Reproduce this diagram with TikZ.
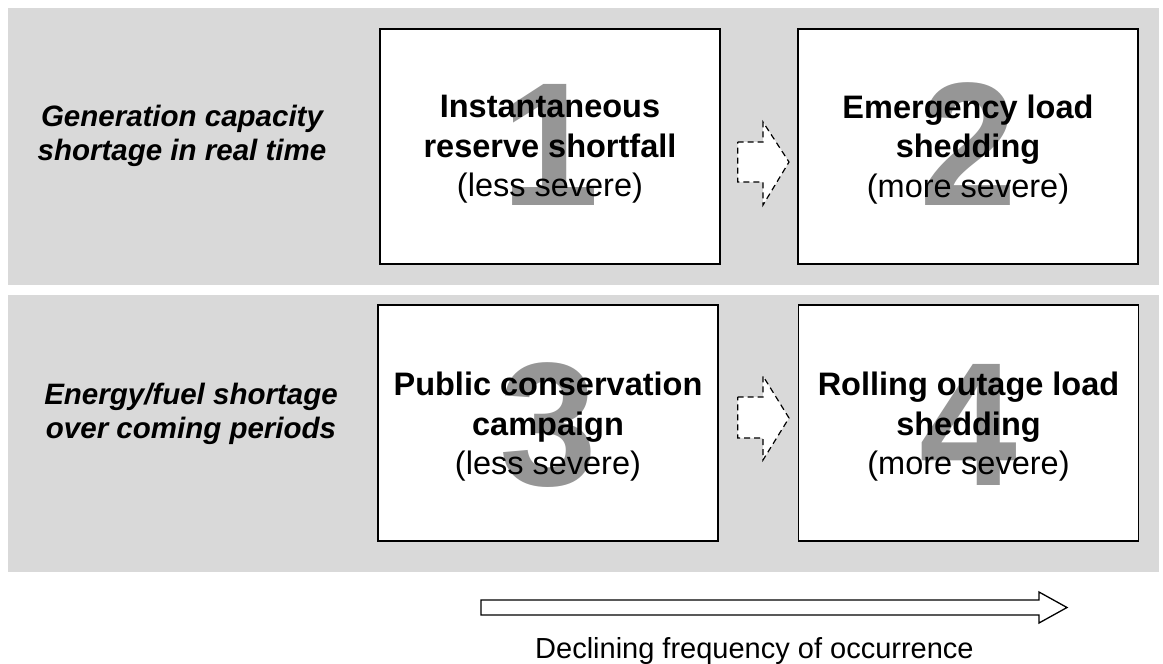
\documentclass[tikz,border=0pt]{standalone}
\usepackage{fontspec}
\setmainfont{Liberation Sans}
\definecolor{bandgray}{RGB}{217,217,217}
\definecolor{digitgray}{RGB}{150,150,150}
\begin{document}
\begin{tikzpicture}[x=1pt,y=-1pt,
  bandfill/.style={fill=bandgray,draw=none},
  stagebox/.style={draw=black,line width=1.5pt,fill=white,inner sep=0pt,minimum width=340pt,minimum height=235pt},
  boxtext/.style={font=\fontsize{32.5}{39.5}\selectfont,align=center,inner sep=0pt},
  bignum/.style={font=\fontsize{176}{176}\selectfont\bfseries,text=digitgray,inner sep=0pt,anchor=base},
  rowlabel/.style={font=\fontsize{29.5}{34}\selectfont\bfseries\itshape,align=center,inner sep=0pt},
  dasharrow/.style={draw=black,fill=white,line width=1.2pt,dash pattern=on 6pt off 4pt},
  bigarrow/.style={draw=black,fill=white,line width=1.3pt},
  caption/.style={font=\fontsize{29}{29}\selectfont,inner sep=0pt,anchor=base west}]
\useasboundingbox (0,0) rectangle (1163,664);
\fill[white] (0,0) rectangle (1163,664);
% bands
\fill[bandfill] (8,8) rectangle (1159,285);
\fill[bandfill] (8,295) rectangle (1159,572);
% boxes
\node[stagebox] (b1) at (550,146.5) {};
\node[stagebox] (b2) at (968,146.5) {};
\node[stagebox,minimum height=236pt] (b3) at (548,423) {};
\node[stagebox,minimum height=236pt] (b4) at (968.5,423) {};
% big digits
\node[bignum] (d1) at (550,205) {1};
\node[bignum] (d2) at (968,205) {2};
\node[bignum] (d3) at (548,485) {3};
\node[bignum] (d4) at (968.5,485) {4};
% box texts
\node[boxtext] (t1) at (550,149.3) {\textbf{Instantaneous}\\\textbf{reserve shortfall}\\(less severe)};
\node[boxtext] (t2) at (968,149.3) {\textbf{Emergency load}\\\textbf{shedding}\\(more severe)};
\node[boxtext] (t3) at (548,427) {\textbf{Public conservation}\\\textbf{campaign}\\(less severe)};
\node[boxtext] (t4) at (968.5,427) {\textbf{Rolling outage load}\\\textbf{shedding}\\(more severe)};
% row labels
\node[rowlabel] (l1) at (182,136) {Generation capacity\\shortage in real time};
\node[rowlabel] (l2) at (191,414) {Energy/fuel shortage\\over coming periods};
% dashed block arrows
\draw[dasharrow] (737.7,142) -- (763,142) -- (763,122) -- (789,162) -- (763,205) -- (763,182) -- (737.7,182) -- cycle;
\draw[dasharrow] (737.7,397) -- (763,397) -- (763,376) -- (789,418) -- (763,460) -- (763,438) -- (737.7,438) -- cycle;
% bottom arrow
\draw[bigarrow] (481,600) -- (1039,600) -- (1039,592) -- (1067,607.5) -- (1039,623) -- (1039,615) -- (481,615) -- cycle;
\node[caption] (freq) at (535,658) {Declining frequency of occurrence};
\end{tikzpicture}
\end{document}
